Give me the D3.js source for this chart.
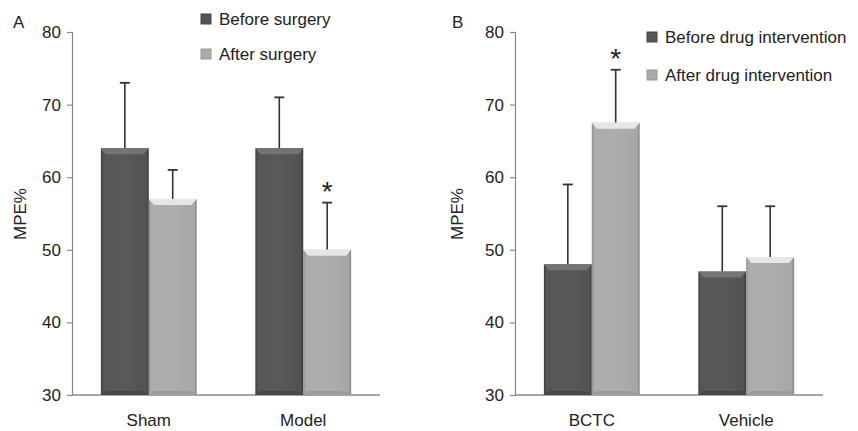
<!DOCTYPE html>
<html>
<head>
<meta charset="utf-8">
<script src="https://cdn.jsdelivr.net/npm/d3@7"></script>
<style>
  body { margin: 0; background: #fff; }
  svg text { font-family: "Liberation Sans", Arial, sans-serif; fill: #222; }
</style>
</head>
<body>
<div id="chart"></div>
<script>
// panel A
var groupsA = ["Sham", "Model"];
var beforeA = [64, 64];
var beforeErrA = [9, 7];
var afterA = [57, 50];
var afterErrA = [4, 6.5];
var starA = [false, true];
var legendA = ["Before surgery", "After surgery"];

// panel B
var groupsB = ["BCTC", "Vehicle"];
var beforeB = [48, 47];
var beforeErrB = [11, 9];
var afterB = [67.5, 49];
var afterErrB = [7.3, 7];
var starB = [true, false];
var legendB = ["Before drug intervention", "After drug intervention"];

var yTicks = [30, 40, 50, 60, 70, 80];

var svg = d3.select("#chart").append("svg")
  .attr("width", 858).attr("height", 431);

var defs = svg.append("defs");
function grad(id, stops) {
  var g = defs.append("linearGradient").attr("id", id)
    .attr("x1", "0%").attr("x2", "100%").attr("y1", "0%").attr("y2", "0%");
  stops.forEach(function (s) {
    g.append("stop").attr("offset", s[0]).attr("stop-color", s[1]);
  });
}
grad("gDark", [["0%", "#3c3c3c"], ["5%", "#565656"], ["50%", "#595959"], ["95%", "#525252"], ["100%", "#383838"]]);
grad("gLight", [["0%", "#8a8a8a"], ["5%", "#acacac"], ["50%", "#aeaeae"], ["95%", "#a6a6a6"], ["100%", "#828282"]]);

var colors = {
  dark: { fill: "url(#gDark)", top: "#747474", bottom: "#474747", legend: "#555" },
  light: { fill: "url(#gLight)", top: "#e6e6e6", bottom: "#9c9c9c", legend: "#aaa" }
};

function panel(opt) {
  var g = svg.append("g");
  var y = d3.scaleLinear().domain([30, 80]).range([395, 32]);
  var x = d3.scaleBand().domain(opt.groups).range([opt.x0, opt.x1]).paddingInner(0.38).paddingOuter(0.187);
  var xs = d3.scaleBand().domain(["before", "after"]).range([0, x.bandwidth()]);

  // y axis
  var yAxis = g.append("g").attr("transform", "translate(" + opt.x0 + ",0)")
    .call(d3.axisLeft(y).tickValues(yTicks).tickSize(5).tickPadding(6));
  yAxis.select(".domain").attr("stroke", "#888").attr("stroke-width", 1.2);
  yAxis.selectAll(".tick line").attr("stroke", "#888").attr("stroke-width", 1.2);
  yAxis.selectAll(".tick text").attr("font-size", 17).attr("fill", "#222")
    .style("font-family", "Liberation Sans, Arial, sans-serif");

  // x axis line
  g.append("line").attr("x1", opt.x0).attr("x2", opt.x1)
    .attr("y1", y(30)).attr("y2", y(30)).attr("stroke", "#888").attr("stroke-width", 1.5);

  opt.groups.forEach(function (grp, i) {
    var series = [
      { key: "before", v: opt.before[i], e: opt.beforeErr[i], c: colors.dark, star: false },
      { key: "after", v: opt.after[i], e: opt.afterErr[i], c: colors.light, star: opt.star[i] }
    ];
    series.forEach(function (s) {
      var bx = x(grp) + xs(s.key), bw = xs.bandwidth();
      var top = y(s.v), bot = y(30);
      var cx = bx + bw / 2;
      // error bar
      g.append("line").attr("x1", cx).attr("x2", cx).attr("y1", top).attr("y2", y(s.v + s.e))
        .attr("stroke", "#333").attr("stroke-width", 1.6);
      g.append("line").attr("x1", cx - 5).attr("x2", cx + 5).attr("y1", y(s.v + s.e)).attr("y2", y(s.v + s.e))
        .attr("stroke", "#333").attr("stroke-width", 1.8);
      // bar body
      g.append("rect").attr("x", bx).attr("y", top).attr("width", bw).attr("height", bot - top)
        .attr("fill", s.c.fill);
      // bevel top
      g.append("polygon")
        .attr("points", [[bx, top], [bx + bw, top], [bx + bw - 5, top + 6], [bx + 5, top + 6]].join(" "))
        .attr("fill", s.c.top);
      // bevel bottom
      g.append("polygon")
        .attr("points", [[bx, bot], [bx + bw, bot], [bx + bw - 5, bot - 4], [bx + 5, bot - 4]].join(" "))
        .attr("fill", s.c.bottom);
      if (s.star) {
        g.append("text").attr("x", cx).attr("y", y(s.v + s.e) - 2)
          .attr("text-anchor", "middle").attr("font-size", 28).text("*");
      }
    });
    g.append("text").attr("x", x(grp) + x.bandwidth() / 2).attr("y", 426)
      .attr("text-anchor", "middle").attr("font-size", 17).text(grp);
  });

  // y title
  g.append("text").attr("transform", "translate(" + (opt.x0 - opt.titleOff) + ",214) rotate(-90)")
    .attr("text-anchor", "middle").attr("font-size", 17).text("MPE%");
  // panel letter
  g.append("text").attr("x", opt.x0 - opt.letterOff).attr("y", 28).attr("font-size", 17).text(opt.letter);

  // legend
  opt.legend.forEach(function (t, i) {
    var ly = opt.legY[i];
    var c = i === 0 ? colors.dark : colors.light;
    g.append("rect").attr("x", opt.legX).attr("y", ly - 5).attr("width", 10).attr("height", 10)
      .attr("fill", c.legend).attr("stroke", i === 0 ? "#444" : "#999").attr("stroke-width", 1);
    g.append("text").attr("x", opt.legX + 18).attr("y", ly + 6).attr("font-size", 17).text(t);
  });
}

panel({ x0: 72, x1: 380, groups: groupsA, before: beforeA, beforeErr: beforeErrA,
  after: afterA, afterErr: afterErrA, star: starA, legend: legendA, letter: "A",
  legX: 201, legY: [19, 54], titleOff: 46, letterOff: 59 });
panel({ x0: 515, x1: 823, groups: groupsB, before: beforeB, beforeErr: beforeErrB,
  after: afterB, afterErr: afterErrB, star: starB, legend: legendB, letter: "B",
  legX: 647, legY: [37, 75], titleOff: 52, letterOff: 63 });
</script>
</body>
</html>
